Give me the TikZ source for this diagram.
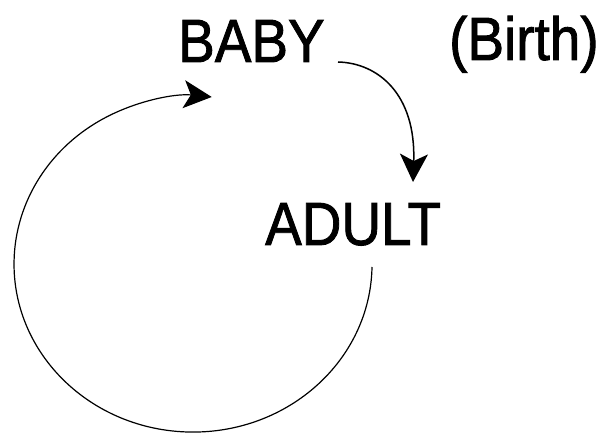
\documentclass[tikz,border=0pt]{standalone}
\usepackage{fontspec}
\setmainfont{Liberation Sans}
\newfontfamily\lblfont[FakeBold=1.5]{Liberation Sans}
\usetikzlibrary{arrows.meta}
\begin{document}
\begin{tikzpicture}[x=1pt,y=1pt,
  lbl/.style={inner sep=0pt, anchor=base west, xscale=0.9, font=\lblfont\fontsize{61}{70}\selectfont},
  conn/.style={line width=1.5pt, -{Stealth[length=28pt,width=28pt,inset=7pt]}}]
\useasboundingbox (0,0) rectangle (605,434);
\node[lbl] (baby) at (178,372) {BABY};
\node[lbl] (birth) at (449,374) {(Birth)};
\node[lbl] (adult) at (265,189) {ADULT};
\coordinate (babyE) at (338,372);
\coordinate (adultN) at (413,252);
\coordinate (adultS) at (372,167);
\draw[conn] (babyE) .. controls (378,371) and (416,340) .. (adultN);
\draw[conn, line width=1.2pt] (adultS) arc[start angle=359, end angle=84, x radius=179, y radius=168];
\end{tikzpicture}
\end{document}
